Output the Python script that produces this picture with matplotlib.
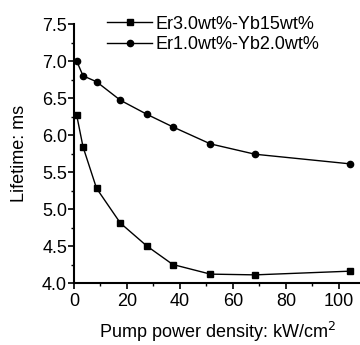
import matplotlib
matplotlib.use("Agg")
import matplotlib.pyplot as plt
from matplotlib.ticker import MultipleLocator

plt.rcParams['font.family'] = ['Liberation Sans', 'DejaVu Sans']

# pump power density, kW/cm^2
power = [1, 3.4, 8.5, 17.5, 27.5, 37.3, 51.5, 68.4, 104.3]
# lifetimes, ms
life_er3 = [6.27, 5.84, 5.28, 4.81, 4.50, 4.25, 4.12, 4.11, 4.16]
life_er1 = [7.00, 6.80, 6.72, 6.47, 6.28, 6.11, 5.88, 5.74, 5.61]

labels = ["Er3.0wt%-Yb15wt%", "Er1.0wt%-Yb2.0wt%"]

fig = plt.figure(figsize=(3.6, 3.45), dpi=100)
ax = fig.add_axes([0.2056, 0.1797, 0.7944, 0.7507])

ax.plot(power, life_er3, '-s', color='black', lw=1, ms=4.5, label=labels[0])
ax.plot(power, life_er1, '-o', color='black', lw=1, ms=4.5, label=labels[1])

ax.set_xlim(0, 108)
ax.set_ylim(4.0, 7.5)
ax.xaxis.set_major_locator(MultipleLocator(20))
ax.xaxis.set_minor_locator(MultipleLocator(10))
ax.yaxis.set_major_locator(MultipleLocator(0.5))
ax.yaxis.set_minor_locator(MultipleLocator(0.25))

for s in ['top', 'right']:
    ax.spines[s].set_visible(False)
for s in ['left', 'bottom']:
    ax.spines[s].set_linewidth(1.5)

ax.tick_params(which='major', direction='out', length=4, width=1.2, labelsize=13, pad=1)
ax.tick_params(which='minor', direction='out', length=2.5, width=1)
ax.tick_params(axis='x', which='major', pad=3)

ax.set_xlabel("Pump power density: kW/cm$^2$", fontsize=13, labelpad=7)
ax.set_ylabel("Lifetime: ms", fontsize=13, labelpad=10)

ax.legend(loc='upper left', bbox_to_anchor=(0.09, 1.06), frameon=False,
          fontsize=13, handlelength=2.5, handletextpad=0.2,
          labelspacing=0.2, borderaxespad=0)

fig.savefig("out.png", dpi=100)
